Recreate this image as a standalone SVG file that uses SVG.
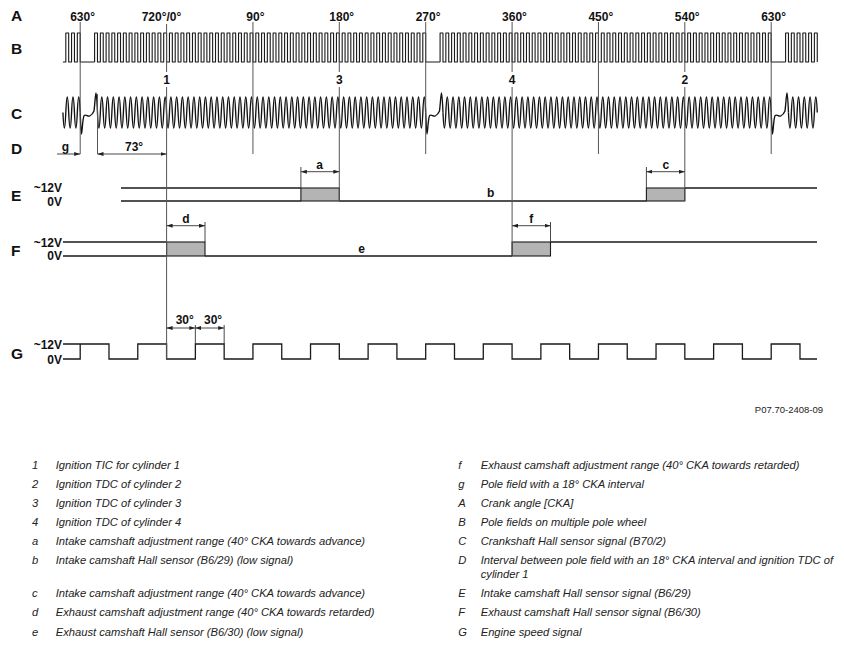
<svg xmlns="http://www.w3.org/2000/svg" width="844" height="646" viewBox="0 0 844 646">
<style>
text{font-family:"Liberation Sans",Arial,Helvetica,sans-serif;fill:#111}
.b12{font-weight:bold;font-size:12px}
.row{font-weight:bold;font-size:15.5px}
.leg{font-style:italic;font-size:11.2px;fill:#222}
.foot{font-size:9.5px;fill:#222}
.guide{stroke:#555;stroke-width:1;fill:none}
.wave{stroke:#1a1a1a;stroke-width:1.1;fill:none;stroke-linejoin:round}
.cw{stroke:#111;stroke-width:1.35;fill:none;stroke-linejoin:round}
.lvl{stroke:#1a1a1a;stroke-width:1.3;fill:none}
.box{fill:#b4b4b4;stroke:#1a1a1a;stroke-width:1.1}
.dim{stroke:#333;stroke-width:0.9;fill:none}
.dim2{stroke:#333;stroke-width:0.9;fill:none;marker-start:url(#ah);marker-end:url(#ah)}
.dim1{stroke:#333;stroke-width:0.9;fill:none;marker-end:url(#ah)}
</style>
<defs>
<marker id="ah" viewBox="0 0 6 4" refX="6" refY="2" markerWidth="6" markerHeight="4" orient="auto-start-reverse" markerUnits="userSpaceOnUse"><path d="M0,0 L6,2 L0,4 z" fill="#222"/></marker>
<path id="bseg" d="M0,62
v-29h2.879v29h2.879 v-29h2.879v29h2.879 v-29h2.879v29h2.879 v-29h2.879v29h2.879 v-29h2.879v29h2.879 v-29h2.879v29h2.879 v-29h2.879v29h2.879 v-29h2.879v29h2.879 v-29h2.879v29h2.879 v-29h2.879v29h2.879
v-29h2.879v29h2.879 v-29h2.879v29h2.879 v-29h2.879v29h2.879 v-29h2.879v29h2.879 v-29h2.879v29h2.879 v-29h2.879v29h2.879 v-29h2.879v29h2.879 v-29h2.879v29h2.879 v-29h2.879v29h2.879 v-29h2.879v29h2.879
v-29h2.879v29h2.879 v-29h2.879v29h2.879 v-29h2.879v29h2.879 v-29h2.879v29h2.879 v-29h2.879v29h2.879 v-29h2.879v29h2.879 v-29h2.879v29h2.879 v-29h2.879v29h2.879 v-29h2.879v29h2.879 v-29h2.879v29h2.879
v-29h2.879v29h2.879 v-29h2.879v29h2.879 v-29h2.879v29h2.879 v-29h2.879v29h2.879 v-29h2.879v29h2.879 v-29h2.879v29h2.879 v-29h2.879v29h2.879 v-29h2.879v29h2.879 v-29h2.879v29h2.879 v-29h2.879v29h2.879
v-29h2.879v29h2.879 v-29h2.879v29h2.879 v-29h2.879v29h2.879 v-29h2.879v29h2.879 v-29h2.879v29h2.879 v-29h2.879v29h2.879 v-29h2.879v29h2.879 v-29h2.879v29h2.879 v-29h2.879v29h2.879 v-29h2.879v29h2.879
v-29h2.879v29h2.879 v-29h2.879v29h2.879 v-29h2.879v29h2.879 v-29h2.879v29h2.879 v-29h2.879v29h2.879 v-29h2.879v29h2.879 v-29h2.879v29h2.879 v-29h2.879v29h2.879
h11.517"/>
<path id="cseg" d="M0,112.5 q1.4396,31 2.8792,0
t2.8792,0 t2.8792,0 t2.8792,0 t2.8792,0 t2.8792,0 t2.8792,0 t2.8792,0 t2.8792,0 t2.8792,0 t2.8792,0
t2.8792,0 t2.8792,0 t2.8792,0 t2.8792,0 t2.8792,0 t2.8792,0 t2.8792,0 t2.8792,0 t2.8792,0 t2.8792,0
t2.8792,0 t2.8792,0 t2.8792,0 t2.8792,0 t2.8792,0 t2.8792,0 t2.8792,0 t2.8792,0 t2.8792,0 t2.8792,0
t2.8792,0 t2.8792,0 t2.8792,0 t2.8792,0 t2.8792,0 t2.8792,0 t2.8792,0 t2.8792,0 t2.8792,0 t2.8792,0
t2.8792,0 t2.8792,0 t2.8792,0 t2.8792,0 t2.8792,0 t2.8792,0 t2.8792,0 t2.8792,0 t2.8792,0 t2.8792,0
t2.8792,0 t2.8792,0 t2.8792,0 t2.8792,0 t2.8792,0 t2.8792,0 t2.8792,0 t2.8792,0 t2.8792,0 t2.8792,0
t2.8792,0 t2.8792,0 t2.8792,0 t2.8792,0 t2.8792,0 t2.8792,0 t2.8792,0 t2.8792,0 t2.8792,0 t2.8792,0
t2.8792,0 t2.8792,0 t2.8792,0 t2.8792,0 t2.8792,0 t2.8792,0 t2.8792,0 t2.8792,0 t2.8792,0 t2.8792,0
t2.8792,0 t2.8792,0 t2.8792,0 t2.8792,0 t2.8792,0 t2.8792,0 t2.8792,0 t2.8792,0 t2.8792,0 t2.8792,0
t2.8792,0 t2.8792,0 t2.8792,0 t2.8792,0 t2.8792,0 t2.8792,0 t2.8792,0 t2.8792,0 t2.8792,0 t2.8792,0
t2.8792,0 t2.8792,0 t2.8792,0 t2.8792,0 t2.8792,0 t2.8792,0 t2.8792,0 t2.8792,0 t2.8792,0 t2.8792,0
t2.8792,0 t2.8792,0 t2.8792,0"/>
<path id="cgap" d="M0,112.5 C0.5,124 0.8,134 1.3,134 C1.9,134 2.4,117 4,115.5 C6,114 7.5,117 9.5,116 C11.5,115 12.8,113.5 13.8,111 C14.6,105 15.2,93 15.8,93 C16.4,93 16.9,104 17.275,112.5"/>
</defs>
<rect width="844" height="646" fill="#fff"/>

<g id="row-labels">
<text class="row" x="11" y="21">A</text>
<text class="row" x="11" y="53.5">B</text>
<text class="row" x="11" y="119">C</text>
<text class="row" x="11" y="154">D</text>
<text class="row" x="11" y="200.7">E</text>
<text class="row" x="11" y="256">F</text>
<text class="row" x="11" y="359">G</text>
</g>

<g id="row-A">
<text class="b12" x="70.2" y="21">630°</text>
<text class="b12" x="141.7" y="21">720°/0°</text>
<text class="b12" x="246.3" y="21">90°</text>
<text class="b12" x="329.3" y="21">180°</text>
<text class="b12" x="415.7" y="21">270°</text>
<text class="b12" x="502.1" y="21">360°</text>
<text class="b12" x="588.4" y="21">450°</text>
<text class="b12" x="674.8" y="21">540°</text>
<text class="b12" x="761.2" y="21">630°</text>
</g>

<g id="row-B">
<path class="wave" d="M62.93,62 h2.879v-29h2.879v29 h2.879v-29h2.879v29 h2.879v-29h2.879v29 h14.396"/>
<use href="#bseg" class="wave" x="94.596"/>
<use href="#bseg" class="wave" x="440.095"/>
<path class="wave" d="M785.59,62 v-29h2.879v29h2.879 v-29h2.879v29h2.879 v-29h2.879v29h2.879 v-29h2.879v29h2.879 v-29h2.879v29h2.879 v-29h2.879v29"/>
</g>

<g id="tdc-labels">
<text class="b12" x="166.6" y="83.5" text-anchor="middle">1</text>
<text class="b12" x="339.3" y="83.5" text-anchor="middle">3</text>
<text class="b12" x="512.1" y="83.5" text-anchor="middle">4</text>
<text class="b12" x="684.8" y="83.5" text-anchor="middle">2</text>
</g>

<g id="row-C">
<path class="cw" d="M62.93,112.5 q1.4396,31 2.8792,0 t2.8792,0 t2.8792,0 t2.8792,0 t2.8792,0 t2.8792,0"/>
<use href="#cgap" class="cw" x="80.2"/>
<use href="#cseg" class="cw" x="97.475"/>
<use href="#cgap" class="cw" x="425.7"/>
<use href="#cseg" class="cw" x="442.97"/>
<use href="#cgap" class="cw" x="771.2"/>
<path class="cw" d="M788.47,112.5 q1.4396,31 2.8792,0 t2.8792,0 t2.8792,0 t2.8792,0 t2.8792,0 t2.8792,0 t2.8792,0 t2.8792,0 t2.8792,0 t2.8792,0"/>
</g>

<g id="row-D">
<text class="b12" x="65.5" y="150.5" text-anchor="middle">g</text>
<text class="b12" x="125" y="150.5">73°</text>
</g>

<g id="row-E">
<text class="b12" x="62" y="192" text-anchor="end">~12V</text>
<text class="b12" x="62" y="205.5" text-anchor="end">0V</text>
<path class="lvl" d="M121,188 H300.9 M121,201 H300.9 M339.3,201 H646.4 M684.8,188 H817"/>
<rect class="box" x="300.9" y="188" width="38.4" height="13"/>
<rect class="box" x="646.4" y="188" width="38.4" height="13"/>
<text class="b12" x="319.6" y="168.5" text-anchor="middle">a</text>
<text class="b12" x="490.7" y="197" text-anchor="middle">b</text>
<text class="b12" x="665.8" y="168.5" text-anchor="middle">c</text>
</g>

<g id="row-F">
<text class="b12" x="62" y="246.5" text-anchor="end">~12V</text>
<text class="b12" x="62" y="260" text-anchor="end">0V</text>
<path class="lvl" d="M63,242 H166.6 M63,256 H166.6 M205,256 H512.1 M550.5,242 H817"/>
<rect class="box" x="166.6" y="242" width="38.4" height="14"/>
<rect class="box" x="512.1" y="242" width="38.4" height="14"/>
<text class="b12" x="185.8" y="222.5" text-anchor="middle">d</text>
<text class="b12" x="361.7" y="252.5" text-anchor="middle">e</text>
<text class="b12" x="531.3" y="222.5" text-anchor="middle">f</text>
</g>

<g id="row-G">
<text class="b12" x="62" y="348.5" text-anchor="end">~12V</text>
<text class="b12" x="62" y="363.5" text-anchor="end">0V</text>
<path class="lvl" d="M63,359 H80.2 V344"/>
<path class="lvl" d="M63,344 H108.99 V359 H137.78 V344 H166.57 V359 H195.37 V344 H224.16 V359 H252.95 V344 H281.74 V359 H310.53 V344 H339.32 V359 H368.12 V344 H396.91 V359 H425.7 V344 H454.49 V359 H483.28 V344 H512.07 V359 H540.87 V344 H569.66 V359 H598.45 V344 H627.24 V359 H656.03 V344 H684.82 V359 H713.62 V344 H742.41 V359 H771.2 V344 H799.99 V359 H817"/>
<text class="b12" x="175.7" y="323.5">30°</text>
<text class="b12" x="204" y="323.5">30°</text>
</g>

<g id="connectors">
<path class="guide" d="M80.2,22 V154 M166.6,24 V72 M166.6,87 V359 M252.95,22 V154 M339.3,22 V72 M339.3,87 V201 M425.7,22 V154 M512.1,22 V72 M512.1,87 V256 M598.45,22 V154 M684.8,22 V72 M684.8,87 V201 M771.2,22 V154 M97.5,94 V154"/>
<path class="dim" d="M300.9,167 V188 M646.4,167 V188 M205,222 V242 M550.5,222 V242 M195.37,325 V344 M224.16,325 V344"/>
<path class="dim1" d="M57,154 H80.2"/>
<path class="dim2" d="M97.5,154 H166.6"/>
<path class="dim2" d="M300.9,171.7 H339.3"/>
<path class="dim2" d="M646.4,171.7 H684.8"/>
<path class="dim2" d="M166.6,225.7 H205"/>
<path class="dim2" d="M512.1,225.7 H550.5"/>
<path class="dim2" d="M166.6,328 H195.37"/>
<path class="dim2" d="M195.37,328 H224.16"/>
</g>

<text class="foot" x="823" y="413" text-anchor="end">P07.70-2408-09</text>

<g id="legend-left" class="legend">
<text class="leg" x="32" y="469">1</text><text class="leg" x="55.7" y="469">Ignition TIC for cylinder 1</text>
<text class="leg" x="32" y="487.5">2</text><text class="leg" x="55.7" y="487.5">Ignition TDC of cylinder 2</text>
<text class="leg" x="32" y="506.5">3</text><text class="leg" x="55.7" y="506.5">Ignition TDC of cylinder 3</text>
<text class="leg" x="32" y="525.5">4</text><text class="leg" x="55.7" y="525.5">Ignition TDC of cylinder 4</text>
<text class="leg" x="32" y="545">a</text><text class="leg" x="55.7" y="545">Intake camshaft adjustment range (40° CKA towards advance)</text>
<text class="leg" x="32" y="564">b</text><text class="leg" x="55.7" y="564">Intake camshaft Hall sensor (B6/29) (low signal)</text>
<text class="leg" x="32" y="596.5">c</text><text class="leg" x="55.7" y="596.5">Intake camshaft adjustment range (40° CKA towards advance)</text>
<text class="leg" x="32" y="616">d</text><text class="leg" x="55.7" y="616">Exhaust camshaft adjustment range (40° CKA towards retarded)</text>
<text class="leg" x="32" y="635.5">e</text><text class="leg" x="55.7" y="635.5">Exhaust camshaft Hall sensor (B6/30) (low signal)</text>
</g>

<g id="legend-right" class="legend">
<text class="leg" x="458.3" y="469">f</text><text class="leg" x="480.7" y="469">Exhaust camshaft adjustment range (40° CKA towards retarded)</text>
<text class="leg" x="458.3" y="487.5">g</text><text class="leg" x="480.7" y="487.5">Pole field with a 18° CKA interval</text>
<text class="leg" x="458.3" y="506.5">A</text><text class="leg" x="480.7" y="506.5">Crank angle [CKA]</text>
<text class="leg" x="458.3" y="525.5">B</text><text class="leg" x="480.7" y="525.5">Pole fields on multiple pole wheel</text>
<text class="leg" x="458.3" y="545">C</text><text class="leg" x="480.7" y="545">Crankshaft Hall sensor signal (B70/2)</text>
<text class="leg" x="458.3" y="564">D</text><text class="leg" x="480.7" y="564">Interval between pole field with an 18° CKA interval and ignition TDC of</text>
<text class="leg" x="480.7" y="578">cylinder 1</text>
<text class="leg" x="458.3" y="596.5">E</text><text class="leg" x="480.7" y="596.5">Intake camshaft Hall sensor signal (B6/29)</text>
<text class="leg" x="458.3" y="616">F</text><text class="leg" x="480.7" y="616">Exhaust camshaft Hall sensor signal (B6/30)</text>
<text class="leg" x="458.3" y="635.5">G</text><text class="leg" x="480.7" y="635.5">Engine speed signal</text>
</g>
</svg>
